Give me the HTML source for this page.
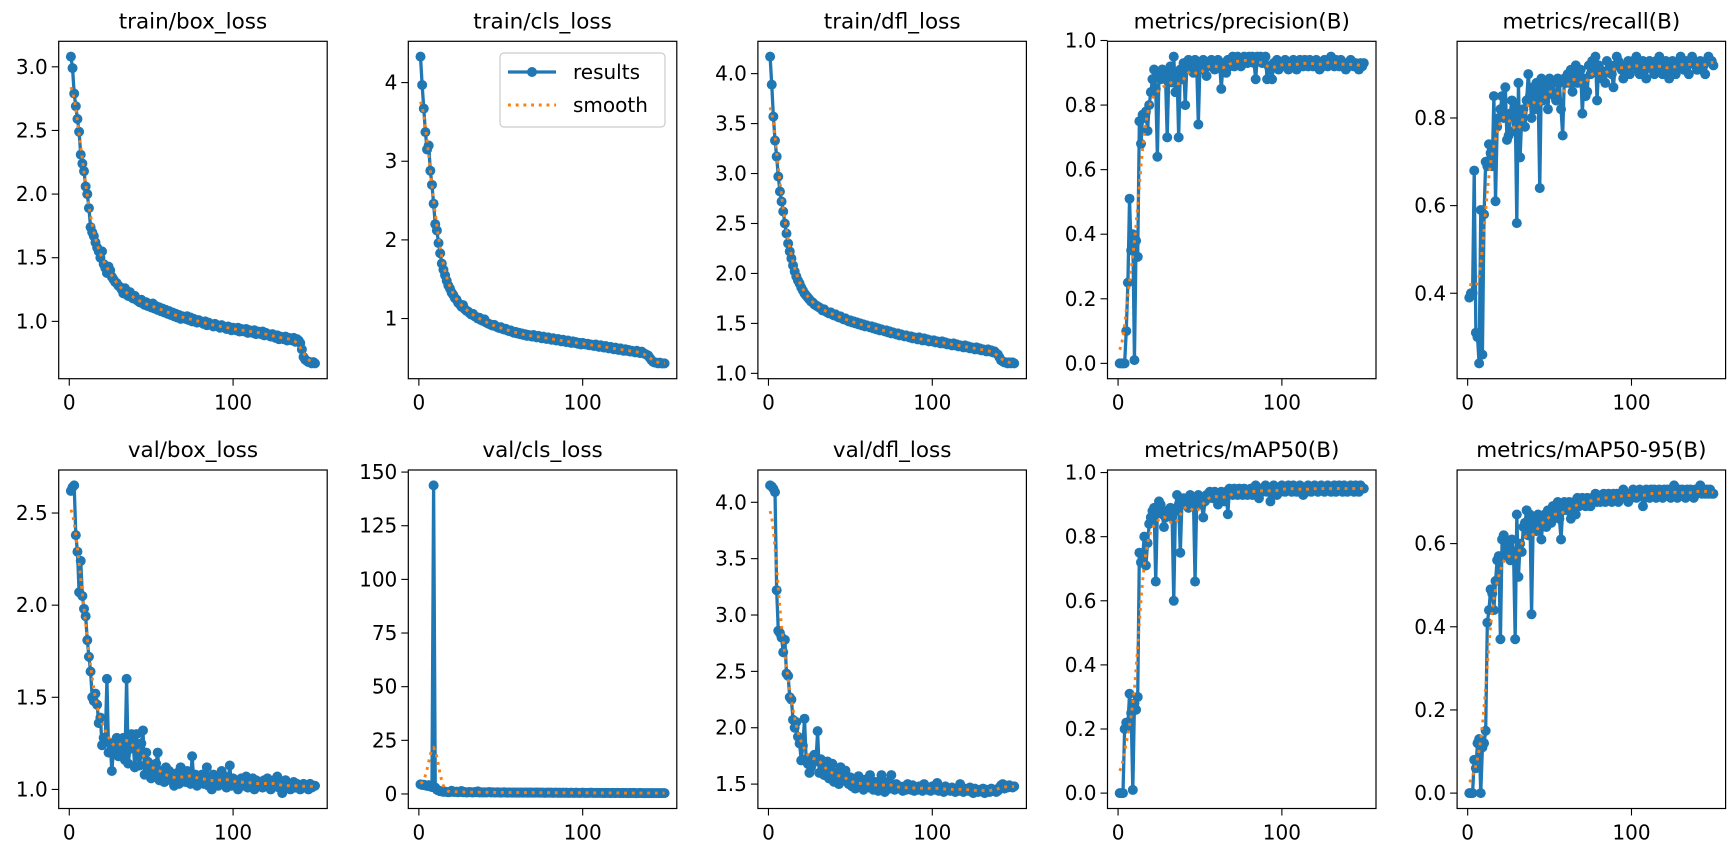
<!DOCTYPE html>
<html><head><meta charset="utf-8"><style>
html,body{margin:0;padding:0;background:#fff;}
svg{display:block;font-family:"DejaVu Sans","Liberation Sans",sans-serif;}
</style></head><body>
<svg id="fig" xmlns="http://www.w3.org/2000/svg" width="1729" height="841" viewBox="0 0 1729 841"></svg>
<script>
const titles = ["train/box_loss","train/cls_loss","train/dfl_loss","metrics/precision(B)","metrics/recall(B)","val/box_loss","val/cls_loss","val/dfl_loss","metrics/mAP50(B)","metrics/mAP50-95(B)"];
const trainBox = [3.08,2.99,2.79,2.69,2.59,2.49,2.31,2.24,2.18,2.06,2.00,1.89,1.74,1.70,1.67,1.62,1.58,1.55,1.50,1.55,1.45,1.42,1.38,1.43,1.40,1.35,1.33,1.31,1.30,1.28,
1.27,1.25,1.22,1.26,1.21,1.20,1.23,1.19,1.18,1.20,1.17,1.16,1.15,1.17,1.14,1.13,1.15,1.12,1.13,1.11,1.14,1.10,1.12,1.09,1.11,1.08,1.10,1.07,1.09,1.06,
1.08,1.05,1.07,1.04,1.06,1.03,1.05,1.02,1.04,1.03,1.02,1.04,1.01,1.03,1.00,1.02,1.01,0.99,1.01,1.00,0.99,0.98,1.00,0.97,0.99,0.98,0.97,0.96,0.98,0.97,0.96,0.95,0.97,0.96,0.95,0.94,0.96,0.95,0.93,0.95,
0.94,0.93,0.95,0.92,0.94,0.93,0.92,0.94,0.91,0.93,0.92,0.91,0.93,0.90,0.92,0.91,0.90,0.92,0.89,0.91,0.90,0.89,0.88,0.90,0.88,0.87,0.89,0.86,0.88,0.87,0.86,0.88,0.85,0.87,0.86,0.85,0.87,0.84,0.86,0.85,
0.83,0.78,0.72,0.70,0.69,0.68,0.68,0.67,0.68,0.67];
const trainCls = [4.33,3.97,3.67,3.37,3.15,3.20,2.88,2.70,2.46,2.20,2.12,1.96,1.83,1.70,1.62,1.55,1.48,1.42,1.38,1.33,1.30,1.26,1.24,1.20,1.18,1.15,1.17,1.12,1.10,1.09,
1.07,1.05,1.06,1.03,1.02,1.00,1.01,0.98,0.97,0.99,0.95,0.94,0.93,0.92,0.91,0.92,0.90,0.89,0.88,0.89,0.87,0.86,0.87,0.85,0.84,0.85,0.83,0.82,0.83,0.81,
0.82,0.80,0.81,0.79,0.80,0.78,0.79,0.78,0.77,0.79,0.77,0.76,0.78,0.76,0.75,0.77,0.75,0.74,0.76,0.74,0.73,0.75,0.73,0.72,0.74,0.72,0.71,0.73,0.71,0.70,0.72,0.70,0.69,0.71,0.69,0.70,0.68,0.69,0.67,0.69,
0.68,0.67,0.68,0.66,0.67,0.66,0.65,0.67,0.65,0.64,0.66,0.64,0.63,0.65,0.63,0.62,0.64,0.62,0.61,0.63,0.61,0.60,0.62,0.60,0.59,0.61,0.59,0.60,0.58,0.59,0.58,0.57,0.59,0.57,0.56,0.58,0.56,0.55,0.54,0.53,
0.50,0.47,0.45,0.44,0.44,0.43,0.44,0.43,0.43,0.43];
const trainDfl = [4.17,3.89,3.57,3.33,3.17,2.97,2.82,2.72,2.62,2.50,2.40,2.30,2.22,2.15,2.08,2.02,1.97,1.93,1.90,1.86,1.83,1.80,1.78,1.76,1.74,1.72,1.71,1.69,1.68,1.67,
1.66,1.65,1.63,1.64,1.62,1.61,1.60,1.61,1.59,1.58,1.59,1.57,1.56,1.57,1.55,1.54,1.55,1.53,1.52,1.53,1.51,1.52,1.50,1.51,1.49,1.50,1.48,1.49,1.47,1.48,
1.47,1.46,1.47,1.45,1.46,1.44,1.45,1.43,1.44,1.43,1.42,1.43,1.41,1.42,1.40,1.41,1.40,1.39,1.40,1.38,1.39,1.38,1.37,1.38,1.37,1.36,1.37,1.35,1.36,1.35,1.34,1.36,1.34,1.33,1.35,1.33,1.34,1.32,1.33,1.32,
1.33,1.31,1.32,1.31,1.30,1.32,1.30,1.31,1.29,1.30,1.29,1.28,1.30,1.28,1.29,1.27,1.28,1.27,1.26,1.28,1.26,1.27,1.25,1.26,1.25,1.24,1.26,1.24,1.25,1.23,1.24,1.23,1.22,1.24,1.22,1.23,1.21,1.22,1.20,1.19,
1.16,1.13,1.12,1.11,1.11,1.10,1.11,1.10,1.11,1.10];
const precision = [0.00,0.00,0.00,0.00,0.10,0.25,0.51,0.35,0.40,0.01,0.38,0.33,0.75,0.68,0.77,0.76,0.78,0.72,0.80,0.84,
0.88,0.91,0.85,0.64,0.90,0.88,0.91,0.89,0.88,0.70,0.90,0.92,0.87,0.95,0.84,0.90,0.70,0.91,0.88,0.93,
0.80,0.92,0.94,0.93,0.91,0.90,0.94,0.92,0.74,0.93,0.91,0.94,0.92,0.89,0.93,0.92,0.94,0.93,0.91,0.92,0.94,0.93,0.85,0.92,0.93,0.90,0.94,0.92,0.93,0.95,0.92,0.94,0.95,0.93,0.92,0.94,0.95,0.94,0.93,0.95,
0.94,0.95,0.93,0.88,0.95,0.94,0.95,0.93,0.94,0.95,0.88,0.92,0.91,0.88,0.93,0.92,0.94,0.91,0.93,0.92,0.93,0.94,0.92,0.91,0.93,0.92,0.94,0.93,0.91,0.92,0.94,0.93,0.92,0.94,0.93,0.92,0.94,0.93,0.92,0.93,
0.94,0.92,0.91,0.93,0.92,0.94,0.93,0.92,0.94,0.95,0.93,0.92,0.94,0.93,0.92,0.94,0.93,0.92,0.91,0.93,0.92,0.94,0.93,0.92,0.93,0.92,0.91,0.93,0.92,0.93];
const recall = [0.39,0.40,0.40,0.68,0.31,0.30,0.24,0.59,0.26,0.58,0.70,0.69,0.74,0.72,0.69,0.85,0.61,0.78,0.80,0.82,
0.85,0.80,0.87,0.75,0.76,0.81,0.84,0.77,0.83,0.56,0.88,0.71,0.80,0.82,0.78,0.84,0.90,0.85,0.80,0.87,
0.82,0.88,0.86,0.64,0.89,0.84,0.87,0.88,0.82,0.89,0.86,0.88,0.85,0.84,0.89,0.88,0.82,0.76,0.89,0.88,
0.90,0.88,0.91,0.86,0.89,0.92,0.88,0.90,0.91,0.81,0.89,0.85,0.86,0.92,0.90,0.93,0.91,0.94,0.84,0.92,
0.91,0.89,0.90,0.88,0.93,0.91,0.92,0.90,0.87,0.92,0.94,0.93,0.92,0.91,0.89,0.92,0.91,0.93,0.90,0.92,
0.93,0.92,0.94,0.91,0.90,0.92,0.93,0.91,0.89,0.92,0.93,0.92,0.91,0.90,0.93,0.92,0.94,0.91,0.90,0.92,
0.93,0.91,0.89,0.92,0.93,0.91,0.90,0.92,0.93,0.94,0.92,0.91,0.93,0.92,0.90,0.93,0.94,0.93,0.92,0.91,
0.92,0.93,0.91,0.92,0.90,0.93,0.94,0.93,0.93,0.92];
const valBox = [2.62,2.64,2.65,2.38,2.29,2.07,2.24,2.05,1.98,1.94,1.81,1.72,1.64,1.50,1.48,1.52,1.46,1.36,1.39,1.24,1.28,1.28,1.60,1.20,1.25,1.10,1.22,1.26,1.28,1.18,1.25,1.20,1.28,1.16,1.60,1.14,1.22,1.30,1.25,1.12,
1.30,1.18,1.13,1.25,1.32,1.08,1.20,1.15,1.10,1.06,1.12,1.08,1.14,1.20,1.05,1.10,1.08,1.04,1.12,1.06,1.10,1.05,1.08,1.02,1.06,1.09,1.03,1.12,1.05,1.07,1.04,1.10,1.06,1.03,1.18,1.05,1.08,1.02,1.06,1.04,
1.08,1.03,1.06,1.12,1.02,1.05,1.00,1.08,1.04,1.06,1.02,1.05,1.10,1.03,1.07,1.01,1.04,1.13,1.02,1.06,1.03,1.05,1.00,1.04,1.06,1.02,1.05,1.07,1.01,1.04,1.03,1.06,1.00,1.05,1.02,1.04,1.03,1.01,1.05,1.02,
1.06,1.03,1.00,1.04,1.05,1.02,1.07,1.01,1.03,0.98,1.02,1.05,1.01,1.03,1.00,1.02,1.04,1.01,1.03,1.02,1.00,1.02,1.03,1.01,1.02,1.00,1.03,1.01,1.02,1.02];
const valCls = [4.5,4.2,4.3,4.0,3.8,4.1,3.5,3.2,143.8,3.0,2.0,1.6,1.3,1.2,1.0,1.1,0.9,0.8,0.9,1.5,
1.0,0.9,1.1,0.8,0.9,1.4,0.8,0.9,0.7,0.8,0.9,0.8,0.7,0.9,0.8,1.2,0.7,0.8,0.7,0.8,
0.7,0.8,0.9,0.7,0.8,0.7,0.7,0.8,0.7,0.6,0.7,0.8,0.7,0.6,0.7,0.7,0.6,0.7,0.6,0.7,
0.6,0.7,0.6,0.6,0.7,0.6,0.6,0.7,0.6,0.6,0.6,0.7,0.6,0.6,0.6,0.6,0.5,0.6,0.6,0.6,
0.6,0.5,0.6,0.6,0.5,0.6,0.5,0.6,0.5,0.6,0.5,0.5,0.6,0.5,0.5,0.6,0.5,0.5,0.5,0.6,
0.5,0.5,0.5,0.5,0.6,0.5,0.5,0.5,0.5,0.5,0.5,0.5,0.4,0.5,0.5,0.5,0.4,0.5,0.5,0.4,
0.5,0.5,0.4,0.5,0.4,0.5,0.4,0.4,0.5,0.4,0.5,0.4,0.4,0.4,0.5,0.4,0.4,0.4,0.4,0.4,
0.4,0.4,0.4,0.4,0.4,0.4,0.4,0.4,0.4,0.4];
const valDfl = [4.15,4.14,4.12,4.09,3.22,2.86,2.84,2.80,2.67,2.78,2.48,2.46,2.27,2.25,2.07,2.00,2.05,1.92,1.86,1.71,1.84,2.08,1.72,1.68,1.60,1.65,1.74,1.76,1.70,1.97,1.60,1.72,1.66,1.58,1.62,1.70,1.55,1.60,1.68,1.52,
1.60,1.56,1.50,1.65,1.54,1.58,1.62,1.52,1.50,1.56,1.48,1.53,1.46,1.52,1.57,1.48,1.50,1.45,1.54,1.50,1.47,1.58,1.49,1.45,1.52,1.48,1.44,1.50,1.58,1.47,1.43,1.49,1.52,1.46,1.58,1.48,1.45,1.50,1.46,1.48,
1.46,1.44,1.48,1.45,1.50,1.47,1.45,1.49,1.44,1.47,1.45,1.48,1.46,1.44,1.50,1.46,1.45,1.47,1.44,1.48,1.46,1.45,1.51,1.44,1.47,1.45,1.43,1.48,1.46,1.45,1.44,1.47,1.45,1.43,1.46,1.44,1.50,1.45,1.43,1.46,
1.45,1.44,1.47,1.45,1.42,1.46,1.44,1.43,1.45,1.44,1.46,1.42,1.45,1.44,1.43,1.46,1.44,1.45,1.43,1.44,1.47,1.49,1.50,1.46,1.48,1.47,1.49,1.48,1.47,1.48];
const map50 = [0.00,0.00,0.00,0.20,0.22,0.21,0.31,0.25,0.01,0.28,0.26,0.30,0.75,0.72,0.74,0.80,0.71,0.78,0.84,0.86,
0.88,0.89,0.66,0.88,0.91,0.90,0.87,0.83,0.86,0.88,0.87,0.89,0.86,0.60,0.88,0.93,0.90,0.75,0.91,0.92,
0.90,0.92,0.89,0.93,0.91,0.92,0.66,0.91,0.93,0.92,0.90,0.86,0.91,0.93,0.92,0.94,0.93,0.92,0.94,0.93,0.90,0.92,0.94,0.93,0.91,0.94,0.87,0.95,0.94,0.93,0.95,0.94,0.93,0.95,0.94,0.93,0.95,0.94,0.93,0.94,
0.95,0.93,0.94,0.96,0.94,0.92,0.95,0.94,0.95,0.96,0.94,0.95,0.91,0.95,0.96,0.94,0.93,0.95,0.94,0.96,0.95,0.94,0.95,0.96,0.95,0.94,0.96,0.95,0.94,0.95,0.96,0.95,0.93,0.95,0.94,0.96,0.95,0.94,0.95,0.96,
0.95,0.94,0.95,0.96,0.95,0.94,0.95,0.96,0.95,0.94,0.95,0.96,0.94,0.95,0.96,0.95,0.94,0.96,0.95,0.94,0.95,0.96,0.95,0.94,0.96,0.95,0.94,0.96,0.95,0.95];
const map5095 = [0.00,0.00,0.00,0.08,0.06,0.12,0.13,0.00,0.11,0.12,0.15,0.41,0.44,0.49,0.48,0.44,0.51,0.56,0.57,0.37,
0.61,0.62,0.58,0.57,0.60,0.56,0.61,0.58,0.37,0.67,0.52,0.60,0.58,0.64,0.65,0.68,0.62,0.67,0.43,0.65,
0.66,0.63,0.67,0.65,0.61,0.66,0.67,0.64,0.68,0.66,0.65,0.69,0.67,0.68,0.70,0.66,0.61,0.68,0.70,0.69,0.68,0.70,0.66,0.69,0.70,0.67,0.71,0.69,0.70,0.71,0.70,0.69,0.71,0.70,0.69,0.71,0.70,0.72,0.70,0.71,
0.70,0.71,0.72,0.70,0.71,0.72,0.71,0.70,0.72,0.71,0.72,0.70,0.71,0.72,0.73,0.71,0.72,0.70,0.72,0.71,0.73,0.72,0.71,0.72,0.73,0.72,0.69,0.71,0.73,0.72,0.71,0.73,0.72,0.73,0.71,0.72,0.73,0.72,0.71,0.73,
0.72,0.73,0.72,0.71,0.73,0.74,0.72,0.71,0.73,0.72,0.73,0.72,0.71,0.73,0.72,0.73,0.72,0.71,0.73,0.72,0.73,0.74,0.72,0.73,0.72,0.73,0.72,0.73,0.72,0.72];
const yTicks = [[1.0,1.5,2.0,2.5,3.0],[1,2,3,4],[1.0,1.5,2.0,2.5,3.0,3.5,4.0],[0,0.2,0.4,0.6,0.8,1.0],[0.4,0.6,0.8],
[1.0,1.5,2.0,2.5],[0,25,50,75,100,125,150],[1.5,2.0,2.5,3.0,3.5,4.0],[0,0.2,0.4,0.6,0.8,1.0],[0,0.2,0.4,0.6]];
const yDecimals = [1,0,1,1,1,1,0,1,1,1];
const xTicks = [0,100];
const series = [trainBox,trainCls,trainDfl,precision,recall,valBox,valCls,valDfl,map50,map5095];

const NS="http://www.w3.org/2000/svg";
const svg=document.getElementById('fig');
function mk(tag,attrs,parent){const e=document.createElementNS(NS,tag);for(const k in attrs)e.setAttribute(k,attrs[k]);(parent||svg).appendChild(e);return e;}
function gauss(y,s){const r=Math.round(4*s),w=[];let sum=0;for(let i=-r;i<=r;i++){const v=Math.exp(-0.5*i*i/(s*s));w.push(v);sum+=v;}
 const n=y.length,out=[];const idx=j=>{while(j<0||j>=n){if(j<0)j=-j-1;if(j>=n)j=2*n-j-1;}return j;};
 for(let i=0;i<n;i++){let a=0;for(let k=-r;k<=r;k++)a+=w[k+r]*y[idx(i+k)];out.push(a/sum);}return out;}

const W=268.5, H=[337.4,338.5], TOP=[41.3,470], LEFT0=58.7, STEP=349.6;
series.forEach((data,p)=>{
  const row=Math.floor(p/5), col=p%5;
  const L=LEFT0+col*STEP, T=TOP[row], B=T+H[row], R=L+W;
  const g=mk('g',{});
  
  
  const n=data.length, sm=gauss(data,3);
  const xmin=1,xmax=n,xm=(xmax-xmin)*0.05;
  let lo=Math.min(...data,...sm),hi=Math.max(...data,...sm);const ym=(hi-lo)*0.05;lo-=ym;hi+=ym;
  const sx=x=>L+(x-(xmin-xm))/((xmax+xm)-(xmin-xm))*W;
  const sy=y=>B-(y-lo)/(hi-lo)*H[row];
  const t=mk('text',{x:(L+R)/2,y:T-13,'text-anchor':'middle','font-size':'21.5',fill:'#000'},g);t.textContent=titles[p];
  
  yTicks[p].forEach(v=>{const y=sy(v);if(y<T-1||y>B+1)return;
    mk('line',{x1:L-7,x2:L,y1:y,y2:y,stroke:'#000','stroke-width':1.1},g);
    const tx=mk('text',{x:L-11,y:y+7,'text-anchor':'end','font-size':'20',fill:'#000'},g);tx.textContent=v.toFixed(yDecimals[p]);
    });
  xTicks.forEach(v=>{const x=sx(v);
    mk('line',{x1:x,x2:x,y1:B,y2:B+7,stroke:'#000','stroke-width':1.1},g);
    const tx=mk('text',{x:x,y:B+31,'text-anchor':'middle','font-size':'20',fill:'#000'},g);tx.textContent=v;
    });
  const pts=data.map((v,i)=>sx(i+1).toFixed(2)+','+sy(v).toFixed(2)).join(' ');
  const ln=mk('polyline',{points:pts,fill:'none',stroke:'#1f77b4','stroke-width':3.3,'stroke-linejoin':'round'},g);
  
  data.forEach((v,i)=>{const c=mk('circle',{cx:sx(i+1),cy:sy(v),r:5.0,fill:'#1f77b4'},g);
    });
  const sp=sm.map((v,i)=>sx(i+1).toFixed(2)+','+sy(v).toFixed(2)).join(' ');
  const sl=mk('polyline',{points:sp,fill:'none',stroke:'#ff7f0e','stroke-width':2.9,'stroke-dasharray':'2.9 4.8'},g);
  
  const fr=mk('rect',{x:L,y:T,width:W,height:H[row],fill:'none',stroke:'#000','stroke-width':1.2},g);
  
  if(p===1){
    const lg=mk('g',{},g);
    mk('rect',{x:500,y:53,width:165,height:74,rx:4,fill:'#fff','fill-opacity':0.8,stroke:'#ccc','stroke-width':1.2},lg);
    const e1=mk('g',{},lg);
    mk('line',{x1:508,x2:556,y1:72,y2:72,stroke:'#1f77b4','stroke-width':3.3},e1);
    mk('circle',{cx:532,cy:72,r:5.0,fill:'#1f77b4'},e1);
    const a=mk('text',{x:573,y:79,'font-size':'20',fill:'#000'},e1);a.textContent='results';
    const e2=mk('g',{},lg);
    mk('line',{x1:508,x2:556,y1:105,y2:105,stroke:'#ff7f0e','stroke-width':2.9,'stroke-dasharray':'2.9 4.8'},e2);
    const b=mk('text',{x:573,y:112,'font-size':'20',fill:'#000'},e2);b.textContent='smooth';
  }
});
</script>
</body></html>
